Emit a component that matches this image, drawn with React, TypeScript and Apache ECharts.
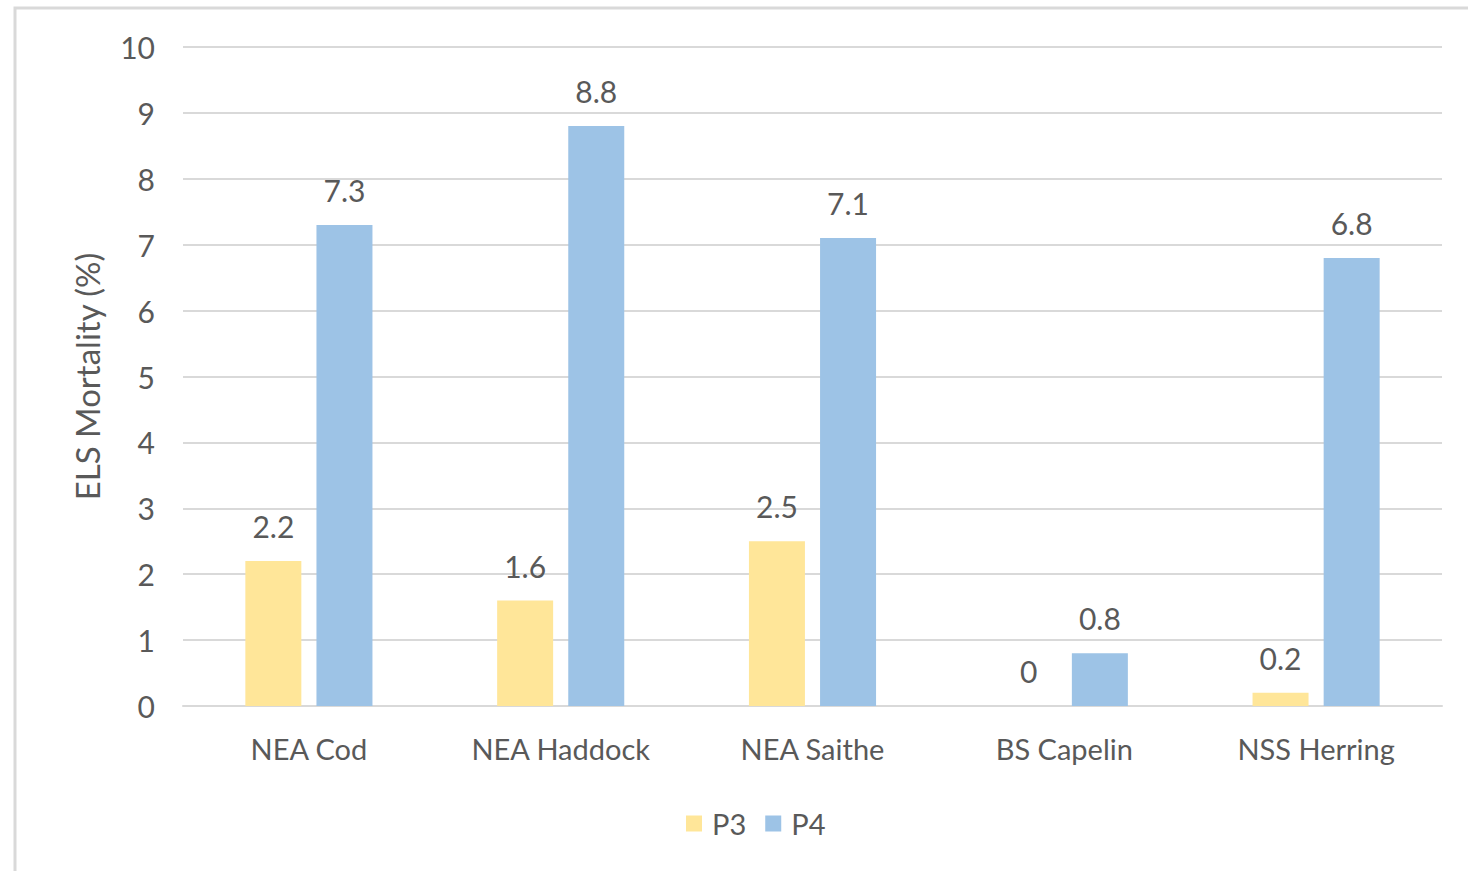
import React, { useEffect, useRef } from "react";
import * as echarts from "echarts";

const categories = ["NEA Cod", "NEA Haddock", "NEA Saithe", "BS Capelin", "NSS Herring"];
const p3Values = [2.2, 1.6, 2.5, 0, 0.2];
const p4Values = [7.3, 8.8, 7.1, 0.8, 6.8];
const seriesNames = ["P3", "P4"];
const yAxisName = "ELS Mortality (%)";

const FONT = "Lato, 'Open Sans', sans-serif";
const TXT = "#595959";

export default function App() {
  const ref = useRef<HTMLDivElement>(null);
  useEffect(() => {
    if (!ref.current) return;
    const chart = echarts.init(ref.current, null, { renderer: "svg" });
    const labelCfg = {
      show: true,
      position: "top" as const,
      distance: 20,
      color: TXT,
      fontSize: 30,
      fontFamily: FONT,
    };
    chart.setOption({
      animation: false,
      backgroundColor: "#ffffff",
      textStyle: { fontFamily: FONT },
      graphic: [
        {
          type: "rect",
          shape: { x: 15, y: 8, width: 1500, height: 900 },
          style: { fill: "none", stroke: "#D9D9D9", lineWidth: 3 },
          silent: true,
        },
      ],
      grid: { left: 183, right: 26, top: 47, bottom: 165 },
      legend: {
        data: seriesNames,
        top: 809,
        left: 686,
        padding: 0,
        itemWidth: 16,
        itemHeight: 16,
        itemGap: 19,
        icon: "rect",
        textStyle: { color: TXT, fontSize: 29, fontFamily: FONT, padding: [0, 0, 0, 5] },
      },
      xAxis: {
        type: "category",
        data: categories,
        axisLine: { show: true, lineStyle: { color: "#D9D9D9", width: 2 } },
        axisTick: { show: false },
        axisLabel: { color: TXT, fontSize: 29, fontFamily: FONT, margin: 28 },
      },
      yAxis: {
        type: "value",
        min: 0,
        max: 10,
        interval: 1,
        name: yAxisName,
        nameLocation: "middle",
        nameGap: 80,
        nameTextStyle: { color: TXT, fontSize: 33, fontFamily: FONT },
        axisLine: { show: false },
        axisTick: { show: false },
        axisLabel: { color: TXT, fontSize: 30, fontFamily: FONT, margin: 28 },
        splitLine: { lineStyle: { color: "#D9D9D9", width: 2 } },
      },
      series: [
        {
          name: seriesNames[0],
          type: "bar",
          data: p3Values,
          barWidth: 56,
          barGap: "27%",
          itemStyle: { color: "#FFE699" },
          label: labelCfg,
        },
        {
          name: seriesNames[1],
          type: "bar",
          data: p4Values,
          barWidth: 56,
          barGap: "27%",
          itemStyle: { color: "#9DC3E6" },
          label: labelCfg,
        },
      ],
    });
    return () => chart.dispose();
  }, []);
  return (
    <div
      ref={ref}
      style={{ position: "fixed", left: 0, top: 0, width: 1468, height: 871 }}
    />
  );
}
